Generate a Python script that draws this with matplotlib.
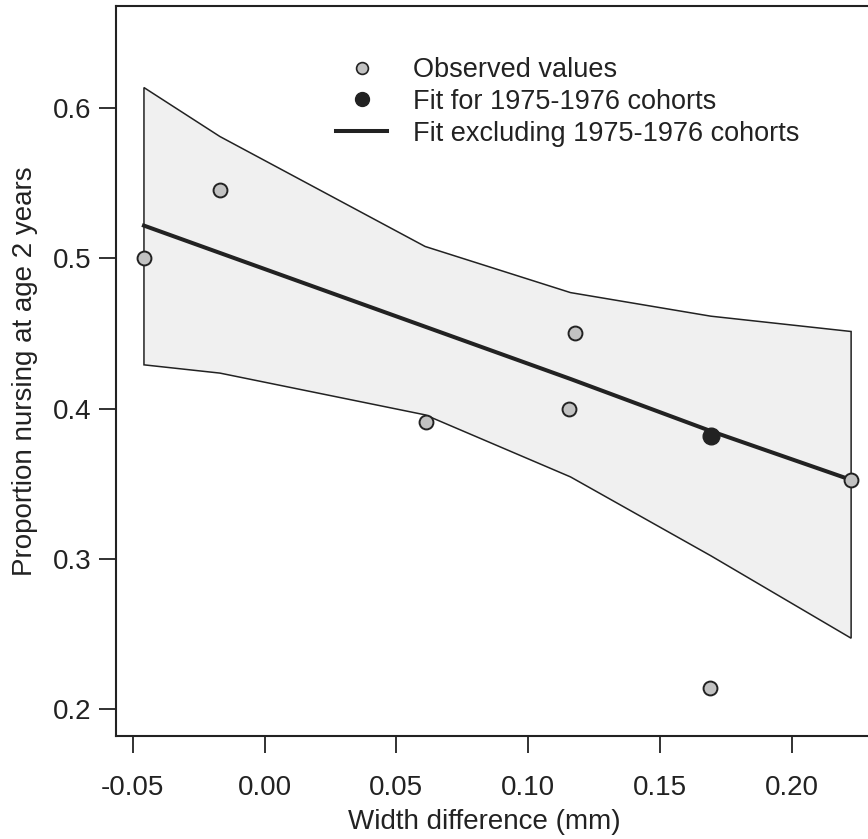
import matplotlib
matplotlib.use('Agg')
import matplotlib.pyplot as plt
from matplotlib.lines import Line2D
import numpy as np

plt.rcParams['font.family'] = ['Liberation Sans', 'DejaVu Sans']

# observed values (width difference, proportion nursing)
obs_x = [-0.0457, -0.0169, 0.0611, 0.1156, 0.1178, 0.1690, 0.2224]
obs_y = [0.500, 0.5454, 0.391, 0.400, 0.450, 0.214, 0.3525]

# fitted value for 1975-1976 cohorts
fit7576_x = [0.1692]
fit7576_y = [0.382]

# fit excluding 1975-1976 cohorts, with confidence band
band_x = [-0.0457, -0.0169, 0.0609, 0.1160, 0.1692, 0.2224]
fit_y = [0.5218, 0.5036, 0.4545, 0.4197, 0.3850, 0.3525]
upper_y = [0.6137, 0.5811, 0.5079, 0.4772, 0.4615, 0.4513]
lower_y = [0.4291, 0.4236, 0.3958, 0.3545, 0.3020, 0.2471]

xticks = [-0.05, 0.00, 0.05, 0.10, 0.15, 0.20]
yticks = [0.2, 0.3, 0.4, 0.5, 0.6]

fig = plt.figure(figsize=(8.68, 8.39), dpi=100)
ax = fig.add_axes([116/868, 1 - 736/839, 1 - 116/868, 730/839])

ec = '#222222'
ax.fill(np.r_[band_x, band_x[::-1]], np.r_[upper_y, lower_y[::-1]],
        facecolor='#f0f0f0', edgecolor=ec, linewidth=1.1, zorder=1)
ax.plot(band_x, fit_y, color=ec, linewidth=2.9, zorder=2)
ax.plot(obs_x, obs_y, 'o', markersize=10, markerfacecolor='#c2c2c2',
        markeredgecolor=ec, markeredgewidth=1.4, zorder=3)
ax.plot(fit7576_x, fit7576_y, 'o', markersize=12, markerfacecolor=ec,
        markeredgecolor=ec, zorder=4)

ax.set_xlim(-0.0563, 0.2288)
ax.set_ylim(0.182, 0.668)
ax.set_xticks(xticks)
ax.set_xticklabels(['%.2f' % v for v in xticks])
ax.set_yticks(yticks)
ax.set_yticklabels(['%.1f' % v for v in yticks])
ax.tick_params(direction='out', length=12, width=1.3, color=ec,
               labelsize=20, labelcolor=ec)
ax.tick_params(axis='x', pad=16)
ax.tick_params(axis='y', pad=6)
for side in ['left', 'top', 'bottom']:
    ax.spines[side].set_linewidth(1.5)
    ax.spines[side].set_color(ec)
ax.spines['right'].set_visible(False)

fig.text(484/868, 1 - 822/839, 'Width difference (mm)', ha='center',
         va='center', fontsize=20, color=ec)
fig.text(25/868, 1 - 371/839, 'Proportion nursing at age 2 years',
         ha='center', va='center', rotation=90, fontsize=20, color=ec)

handles = [
    Line2D([], [], linestyle='none', marker='o', markersize=8.5,
           markerfacecolor='#c2c2c2', markeredgecolor=ec, markeredgewidth=1.2),
    Line2D([], [], linestyle='none', marker='o', markersize=10,
           markerfacecolor=ec, markeredgecolor=ec),
    Line2D([], [], color=ec, linewidth=2.9),
]
labels = ['Observed values', 'Fit for 1975-1976 cohorts',
          'Fit excluding 1975-1976 cohorts']
ax.legend(handles, labels, loc='upper left',
          bbox_to_anchor=(336/868, 1 - 57/839), bbox_transform=fig.transFigure,
          frameon=False, fontsize=19.5, handlelength=1.9, handletextpad=0.95,
          labelspacing=0.22, borderpad=0, borderaxespad=0,
          labelcolor=ec)

fig.savefig('out.png', dpi=100)
